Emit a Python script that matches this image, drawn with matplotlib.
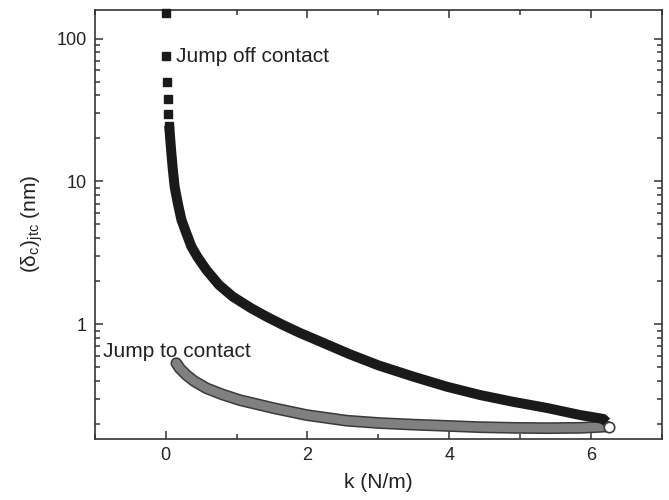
import matplotlib
matplotlib.use("Agg")
import matplotlib.pyplot as plt
from matplotlib.ticker import LogLocator, NullFormatter, FixedLocator, FixedFormatter

plt.rcParams['font.family'] = ['Liberation Sans', 'DejaVu Sans']
plt.rcParams['mathtext.fontset'] = 'custom'
plt.rcParams['mathtext.rm'] = 'Liberation Sans'
plt.rcParams['mathtext.it'] = 'Liberation Sans'

# jump off contact: sparse squares at small k, then a dense chain
off_sq_k = [0.0, 0.01, 0.02, 0.03, 0.035, 0.05]
off_sq_d = [152, 75, 50, 38, 29.8, 24.6]
off_k = [0.05, 0.08, 0.1, 0.127, 0.17, 0.222, 0.28, 0.363, 0.45, 0.575, 0.75,
         0.946, 1.2, 1.422, 1.65, 1.893, 2.25, 2.6, 3.0, 3.489, 3.965, 4.435,
         4.901, 5.377, 5.847, 6.172, 6.22]
off_d = [24.6, 15.9, 12.3, 9.18, 7.1, 5.40, 4.5, 3.50, 2.95, 2.40, 1.89,
         1.56, 1.30, 1.13, 0.99, 0.869, 0.73, 0.615, 0.515, 0.43, 0.365, 0.319,
         0.286, 0.259, 0.231, 0.217, 0.206]

# jump to contact
to_k = [0.151, 0.2, 0.292, 0.4, 0.575, 0.8, 1.045, 1.511, 1.987, 2.552, 3.02,
        3.489, 3.965, 4.435, 4.901, 5.377, 5.847, 6.22]
to_d = [0.533, 0.49, 0.441, 0.40, 0.356, 0.322, 0.294, 0.259, 0.231, 0.211, 0.203,
        0.198, 0.194, 0.190, 0.188, 0.187, 0.188, 0.192]
end_k = [6.247]
end_d = [0.191]

fig = plt.figure(figsize=(6.69, 5.0), dpi=100)
ax = fig.add_axes([0.1416, 0.122, 0.8479, 0.859])

ax.plot(to_k, to_d, color='#3a3a3a', lw=8.5, solid_capstyle='round', solid_joinstyle='round', zorder=2)
ax.plot(to_k, to_d, color='#808080', lw=6.3, solid_capstyle='round', solid_joinstyle='round', zorder=3)
ax.plot(off_k, off_d, color='#1a1a1a', lw=7.2, solid_capstyle='butt', solid_joinstyle='round', zorder=4)
ax.plot(off_sq_k, off_sq_d, 's', color='#1a1a1a', ms=5.8, zorder=4, clip_on=False)
ax.plot(end_k, end_d, 'o', mfc='white', mec='#3a3a3a', mew=1.2, ms=7.5, zorder=5)

ax.set_yscale('log')
ax.set_xlim(-1, 7)
ax.set_ylim(0.157, 160)

ax.xaxis.set_major_locator(FixedLocator([0, 2, 4, 6]))
ax.xaxis.set_major_formatter(FixedFormatter(['0', '2', '4', '6']))
ax.xaxis.set_minor_locator(FixedLocator([-1, 1, 3, 5, 7]))
ax.yaxis.set_major_locator(FixedLocator([1, 10, 100]))
ax.yaxis.set_major_formatter(FixedFormatter(['1', '10', '100']))
ax.yaxis.set_minor_locator(LogLocator(base=10, subs=range(2, 10)))
ax.yaxis.set_minor_formatter(NullFormatter())

ax.tick_params(which='both', direction='in', top=True, right=True, color='#333333', width=1.1)
ax.tick_params(which='major', length=6, labelsize=13, labelcolor='#222222', pad=6)
ax.tick_params(which='minor', length=3.5)
for s in ax.spines.values():
    s.set_linewidth(1.2)
    s.set_color('#333333')

ax.set_xlabel('k (N/m)', fontsize=15, color='#222222', labelpad=6)
ax.set_ylabel(r'$(\mathrm{\delta}_\mathrm{c})_\mathrm{jtc}$ (nm)', fontsize=15, color='#222222', labelpad=8)

ax.text(0.15, 75, 'Jump off contact', fontsize=15, color='#222222', va='center', ha='left')
ax.text(-0.89, 0.64, 'Jump to contact', fontsize=15, color='#222222', va='center', ha='left')

fig.savefig('out.png', dpi=100)
